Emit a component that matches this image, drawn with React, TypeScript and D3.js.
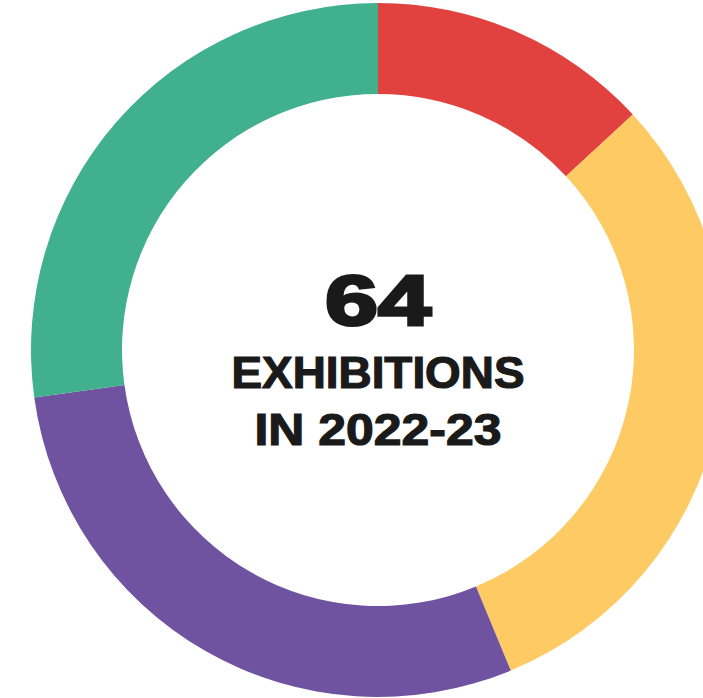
import React from 'react';
import * as d3 from 'd3';

// exhibition share by category, read from the ring (clockwise from 12 o'clock)
const categories = ['Red', 'Yellow', 'Purple', 'Green'];
const values = [8.4, 19.6, 18.6, 17.4];
const colors = ['#E2423F', '#FDCA63', '#6F52A0', '#41B08D'];

const totalLabel = '64';
const captionLines = ['EXHIBITIONS', 'IN 2022-23'];

const W = 703;
const H = 698;

export default function App() {
  const cx = 378;
  const cy = 350;
  const outer = 347;
  const inner = 256;

  const pie = d3.pie<number>().sort(null).value(d => d)(values);
  const arc = d3.arc<d3.PieArcDatum<number>>().innerRadius(inner).outerRadius(outer);

  const font = '"Liberation Sans", Arial, sans-serif';

  return (
    <svg
      width={W}
      height={H}
      style={{ position: 'absolute', left: 0, top: 0, background: '#fff' }}
    >
      <g transform={`translate(${cx},${cy})`}>
        {pie.map((p, i) => (
          <path key={categories[i]} d={arc(p) || ''} fill={colors[i]} />
        ))}
        <text
          x={0}
          y={-25}
          textAnchor="middle"
          fontFamily={font}
          fontWeight={900}
          fontSize={70}
          fill="#1a1a1a"
          stroke="#1a1a1a"
          strokeWidth={3}
          textLength={106}
          lengthAdjust="spacingAndGlyphs"
        >
          {totalLabel}
        </text>
        <text
          x={0}
          y={38}
          textAnchor="middle"
          fontFamily={font}
          fontWeight={900}
          fontSize={44}
          fill="#1a1a1a"
          stroke="#1a1a1a"
          strokeWidth={1.2}
          textLength={293}
          lengthAdjust="spacingAndGlyphs"
        >
          {captionLines[0]}
        </text>
        <text
          x={0}
          y={95}
          textAnchor="middle"
          fontFamily={font}
          fontWeight={900}
          fontSize={44}
          fill="#1a1a1a"
          stroke="#1a1a1a"
          strokeWidth={1.2}
          textLength={247}
          lengthAdjust="spacingAndGlyphs"
        >
          {captionLines[1]}
        </text>
      </g>
    </svg>
  );
}
